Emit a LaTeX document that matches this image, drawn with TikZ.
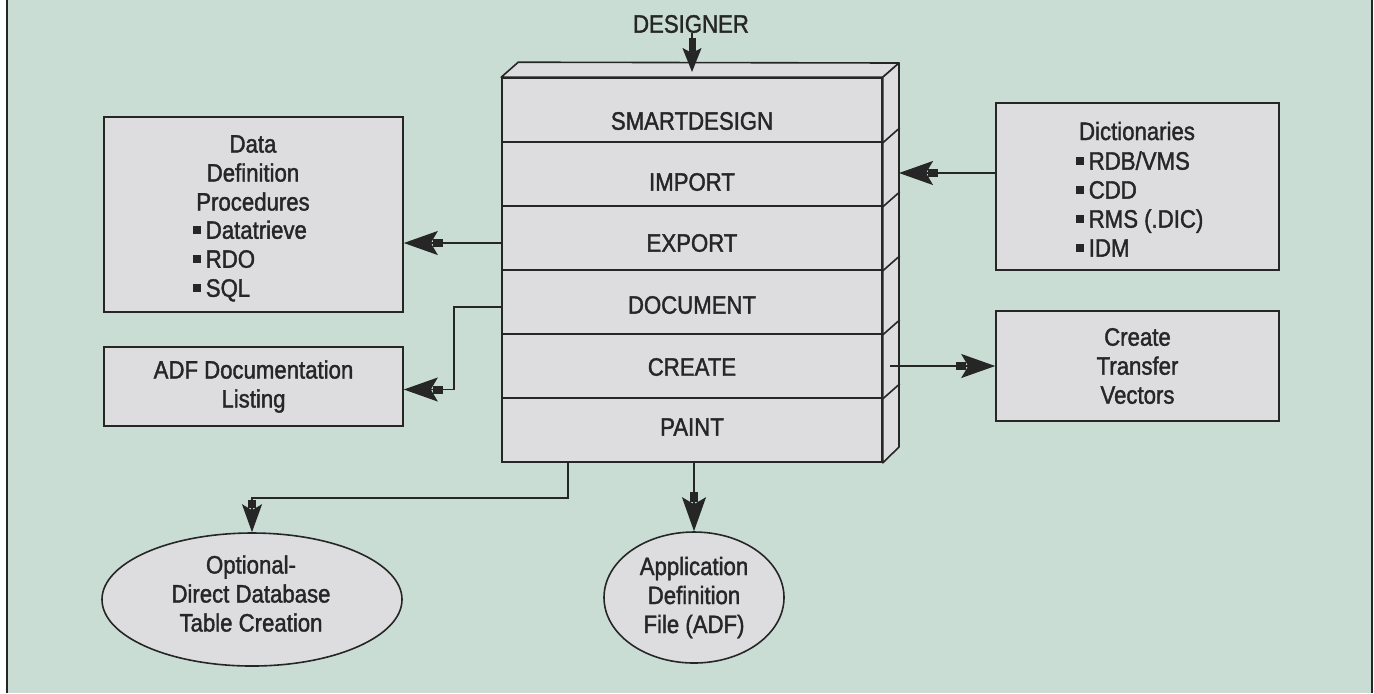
\documentclass[tikz,border=0pt]{standalone}
\usepackage{fontspec}
\setmainfont{Liberation Sans}[FakeStretch=0.88,FakeBold=1.5]
\usetikzlibrary{arrows.meta,shapes.geometric}
\definecolor{bgc}{HTML}{C9DDD5}
\definecolor{boxc}{HTML}{DDDCDF}
\definecolor{lc}{HTML}{262626}
\newcommand{\sqb}{\rule[2.4pt]{4pt}{4pt}\hspace{2.2pt}}
\begin{document}
\begin{tikzpicture}[x=0.5pt,y=-0.5pt,
  every node/.style={font=\fontsize{12.6}{14.5}\selectfont, text=lc},
  box/.style={draw=lc, fill=boxc, rectangle, inner sep=0pt, line width=0.8pt, align=center},
  row/.style={box, minimum width=190pt, minimum height=32pt},
  ell/.style={draw=lc, fill=boxc, ellipse, inner sep=0pt, line width=0.8pt, align=center},
  lbl/.style={inner sep=0pt},
  arr/.style={draw=lc, line width=0.8pt, -{Rectangle[length=5pt,width=4pt,sep=-2.5pt] Stealth[length=17pt,width=12pt,inset=3.5pt]}},
  arrb/.style={draw=lc, line width=0.8pt, -{Rectangle[length=4pt,width=4pt,sep=-2pt] Stealth[length=14pt,width=10pt,inset=3pt]}},
  arrs/.style={draw=lc, line width=0.8pt, -{Rectangle[length=7pt,width=3.5pt,sep=-2pt] Stealth[length=12pt,width=9.5pt,inset=2.5pt]}}
]
\useasboundingbox (0,0) rectangle (1374,693);
\fill[white] (0,0) rectangle (1374,693);
\fill[bgc] (7,0) rectangle (1372,693);
\draw[lc, line width=1pt] (7,0) -- (7,693);
\draw[lc, line width=1pt] (1372,0) -- (1372,693);

% central stack
\foreach \i/\y in {1/110,2/174,3/238,4/302,5/366,6/430}
  \node[row] (r\i) at (692,\y) {};
\draw[draw=lc, fill=boxc, line width=0.8pt, line join=round]
  (r1.north west) -- ++(17,-15) -- (899,63) -- (r1.north east) -- cycle;
\draw[draw=lc, fill=boxc, line width=0.8pt, line join=round]
  (r1.north east) -- (899,63) -- (899,447) -- (r6.south east) -- cycle;
\foreach \i in {1,...,5}
  \draw[lc, line width=0.8pt] (r\i.south east) -- ++(17,-15);

\node[lbl] at (692,121) {SMARTDESIGN};
\node[lbl] at (692,182) {IMPORT};
\node[lbl] at (692,243) {EXPORT};
\node[lbl] at (692,305) {DOCUMENT};
\node[lbl] at (692,367) {CREATE};
\node[lbl] at (692,427) {PAINT};

% designer
\node[lbl] (des) at (691,24) {DESIGNER};
\coordinate (topin) at (692,72);

% left boxes
\node[box, minimum width=149.5pt, minimum height=97.5pt] (dd) at (253.5,214.5) {};
\node[lbl, align=center] at (253,173) {Data\\Definition\\Procedures};
\node[lbl, align=left, anchor=west] at (193,261) {\sqb Datatrieve\\\sqb RDO\\\sqb SQL};

\node[box, minimum width=149.5pt, minimum height=39.5pt] (adf) at (253.5,386.5) {ADF Documentation\\Listing};

% right boxes
\node[box, minimum width=141.5pt, minimum height=83.5pt] (dict) at (1137.5,186.5) {};
\node[lbl] at (1137,131) {Dictionaries};
\node[lbl, align=left, anchor=west] at (1076,204) {\sqb RDB/VMS\\\sqb CDD\\\sqb RMS (.DIC)\\\sqb IDM};

\node[box, minimum width=141.5pt, minimum height=55pt] (ctv) at (1137.5,366) {Create\\Transfer\\Vectors};

% ellipses
\node[ell, minimum width=150pt, minimum height=66.5pt] (e1) at (252,599.5) {};
\node[lbl, align=center] at (251,593.5) {Optional-\\Direct Database\\Table Creation};
\node[ell, minimum width=90pt, minimum height=65.5pt] (e2) at (694,597.5) {Application\\Definition\\File (ADF)};

% connectors
\draw[arrs] (des.south -| topin) -- (topin);

\coordinate (sideI) at (899,173);
\draw[arr] (dict.west |- sideI) -- (sideI);

\coordinate (e3) at ([yshift=-2.5pt]r3.west);
\draw[arr] (e3) -- (e3 -| dd.east);

\coordinate (e4) at ([yshift=-2.5pt]r4.west);
\coordinate (adfin) at ([yshift=-1.5pt]adf.east);
\draw[arr] (e4) -| ([xshift=25pt]adfin) -- (adfin);

\coordinate (ctvs) at (890,366);
\draw[arr] (ctvs) -- (ctv.west);

\coordinate (b1) at (568,462);
\draw[arrb] (b1) -- ++(0,36) -| (e1.north);

\draw[arr] (r6.south -| e2.north) -- (e2.north);
\end{tikzpicture}
\end{document}
